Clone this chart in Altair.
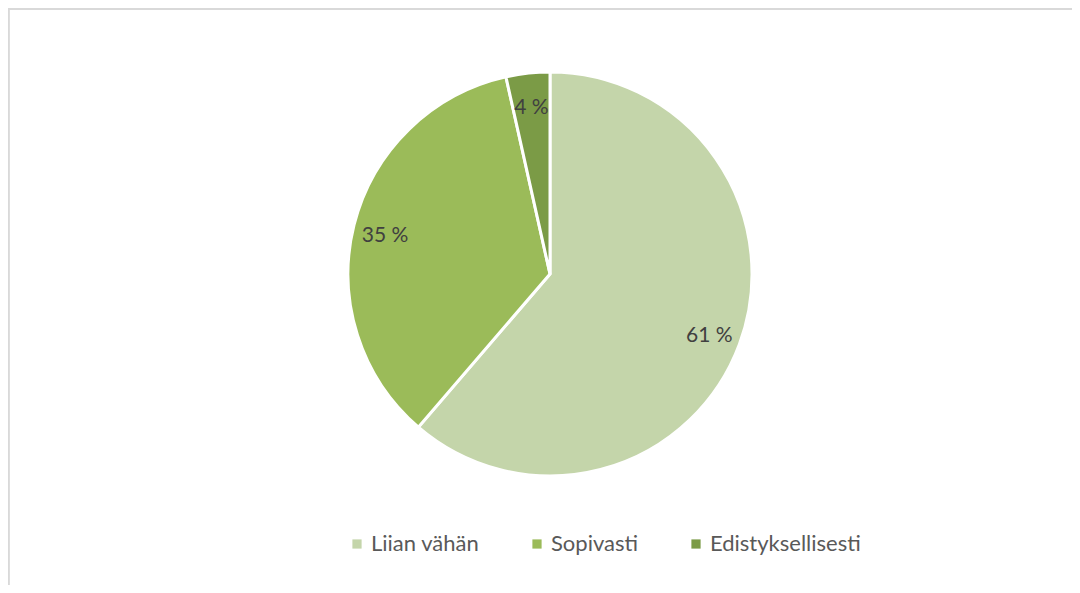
import altair as alt
import pandas as pd

categories = ["Liian vähän", "Sopivasti", "Edistyksellisesti"]
values = [61.3, 35.2, 3.5]
labels = ["61 %", "35 %", "4 %"]
colors = ["#C4D5AA", "#9BBB59", "#7B9B46"]

df = pd.DataFrame({
    "category": categories,
    "value": values,
    "label": labels,
    "idx": list(range(len(categories))),
})

W, H = 1064, 577
CX, CY = 542, 266
FONT = "Lato"

base = alt.Chart(df)

arcs = base.mark_arc(outerRadius=202, stroke="white", strokeWidth=3, strokeJoin="miter").encode(
    theta=alt.Theta("value:Q", stack=True),
    order=alt.Order("idx:Q"),
    color=alt.Color(
        "category:N",
        scale=alt.Scale(domain=categories, range=colors),
        legend=alt.Legend(
            title=None,
            orient="none",
            legendX=338,
            legendY=525,
            direction="horizontal",
            columns=3,
            symbolType="square",
            symbolSize=85,
            symbolStrokeWidth=0,
            labelFont=FONT,
            labelFontSize=22,
            labelColor="#595959",
            labelOffset=3,
            columnPadding=46,
        ),
    ),
    x=alt.value(CX),
    y=alt.value(CY),
)

texts = base.mark_text(radius=170, font=FONT, fontSize=21, color="#404040", dy=3).encode(
    theta=alt.Theta("value:Q", stack=True),
    order=alt.Order("idx:Q"),
    text="label:N",
    x=alt.value(CX),
    y=alt.value(CY),
)

top_rule = alt.Chart(df).mark_rule(color="#D9D9D9", strokeWidth=1.5).encode(
    x=alt.value(0), x2=alt.value(W), y=alt.value(1)
)
left_rule = alt.Chart(df).mark_rule(color="#D9D9D9", strokeWidth=1.5).encode(
    x=alt.value(0.75), y=alt.value(1), y2=alt.value(H)
)

chart = alt.layer(top_rule, left_rule, arcs, texts).properties(
    width=W, height=H, padding=0, autosize=alt.AutoSizeParams(type="none")
).configure_view(stroke="transparent")

chart.save("out.html", embed_options={"renderer": "svg", "actions": False})
